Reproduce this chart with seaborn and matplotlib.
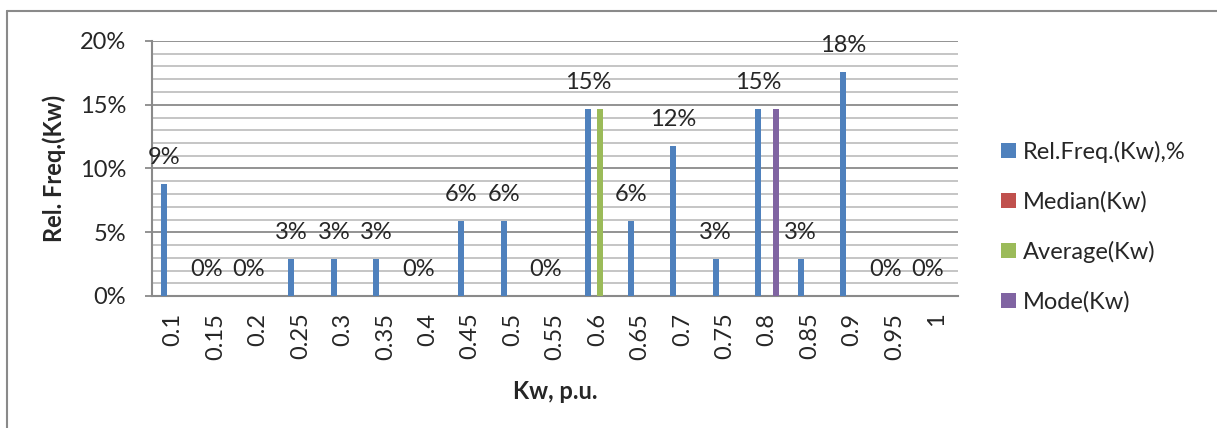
import matplotlib
matplotlib.use("Agg")
import matplotlib.pyplot as plt
import seaborn as sns
import pandas as pd
from matplotlib.ticker import PercentFormatter, MultipleLocator
from matplotlib.patches import Patch
from matplotlib.lines import Line2D

# ---- data ----
categories = ["0.1", "0.15", "0.2", "0.25", "0.3", "0.35", "0.4", "0.45", "0.5", "0.55",
              "0.6", "0.65", "0.7", "0.75", "0.8", "0.85", "0.9", "0.95", "1"]
rel_freq = [0.088, 0.0, 0.0, 0.029, 0.029, 0.029, 0.0, 0.059, 0.059, 0.0,
            0.147, 0.059, 0.118, 0.029, 0.147, 0.029, 0.176, 0.0, 0.0]
median = [0.0] * 19
average = [0.0, 0.0, 0.0, 0.0, 0.0, 0.0, 0.0, 0.0, 0.0, 0.0,
           0.147, 0.0, 0.0, 0.0, 0.0, 0.0, 0.0, 0.0, 0.0]
mode = [0.0, 0.0, 0.0, 0.0, 0.0, 0.0, 0.0, 0.0, 0.0, 0.0,
        0.0, 0.0, 0.0, 0.0, 0.147, 0.0, 0.0, 0.0, 0.0]
series_names = ["Rel.Freq.(Kw),%", "Median(Kw)", "Average(Kw)", "Mode(Kw)"]
series_colors = ["#4F81BD", "#C0504D", "#9BBB59", "#8064A2"]

rows = []
for name, vals in zip(series_names, [rel_freq, median, average, mode]):
    for c, v in zip(categories, vals):
        rows.append({"Kw": c, "value": v, "series": name})
df = pd.DataFrame(rows)

sns.set_style("white")
plt.rcParams["font.family"] = ["Lato", "DejaVu Sans"]
FS = 17

W, H = 1217, 428
fig = plt.figure(figsize=(W / 100, H / 100), dpi=100)
ax = fig.add_axes([152 / W, 1 - 296 / H, 806 / W, 255 / H])

sns.barplot(data=df, x="Kw", y="value", hue="series", order=categories,
            hue_order=series_names, palette=series_colors, width=0.566,
            saturation=1, linewidth=0, legend=False, ax=ax, zorder=3)

ax.set_ylim(0, 0.20)
ax.set_xlim(-0.5, len(categories) - 0.5)
ax.yaxis.set_major_locator(MultipleLocator(0.05))
ax.yaxis.set_minor_locator(MultipleLocator(0.01))
ax.yaxis.set_major_formatter(PercentFormatter(1, decimals=0))
ax.grid(axis="y", which="minor", color="#c0c0c0", lw=1.3, zorder=0)
ax.grid(axis="y", which="major", color="#8a8a8a", lw=1.3, zorder=1)
ax.set_axisbelow(True)

for s in ["top", "right"]:
    ax.spines[s].set_visible(False)
for s in ["left", "bottom"]:
    ax.spines[s].set_color("#8a8a8a")
    ax.spines[s].set_linewidth(1.5)

ax.tick_params(axis="y", which="major", length=5, width=1.3, color="#8a8a8a",
               labelsize=FS, pad=13.5, left=True)
ax.tick_params(axis="y", which="minor", length=0)
ax.tick_params(axis="x", length=0, labelsize=FS, pad=12)
plt.setp(ax.get_xticklabels(), rotation=90, va="top", ha="center")

ax.set_xlabel("Kw, p.u.", fontsize=FS, fontweight="bold", labelpad=15)
ax.set_ylabel("Rel. Freq.(Kw)", fontsize=FS, fontweight="bold", labelpad=10)

# data labels for the first series
for rect, v in zip(ax.containers[0], rel_freq):
    ax.annotate(f"{v:.0%}", (rect.get_x() + rect.get_width() / 2, v),
                xytext=(0, 19), textcoords="offset points",
                ha="center", va="center", fontsize=FS, zorder=5)

handles = [Patch(facecolor=c, edgecolor="none") for c in series_colors]
fig.legend(handles, series_names, loc="upper left",
           bbox_to_anchor=(992 / W, 1 - 131 / H), frameon=False,
           borderaxespad=0, fontsize=FS, handlelength=0.6, handleheight=0.6,
           handletextpad=0.3, labelspacing=1.2)

# outer chart frame
fig.add_artist(Line2D([7 / W, 1.0], [1 - 11 / H, 1 - 11 / H], color="#8a8a8a", lw=1.5))
fig.add_artist(Line2D([7 / W, 7 / W], [0.0, 1 - 11 / H], color="#8a8a8a", lw=1.5))

fig.savefig("out.png", dpi=100)
